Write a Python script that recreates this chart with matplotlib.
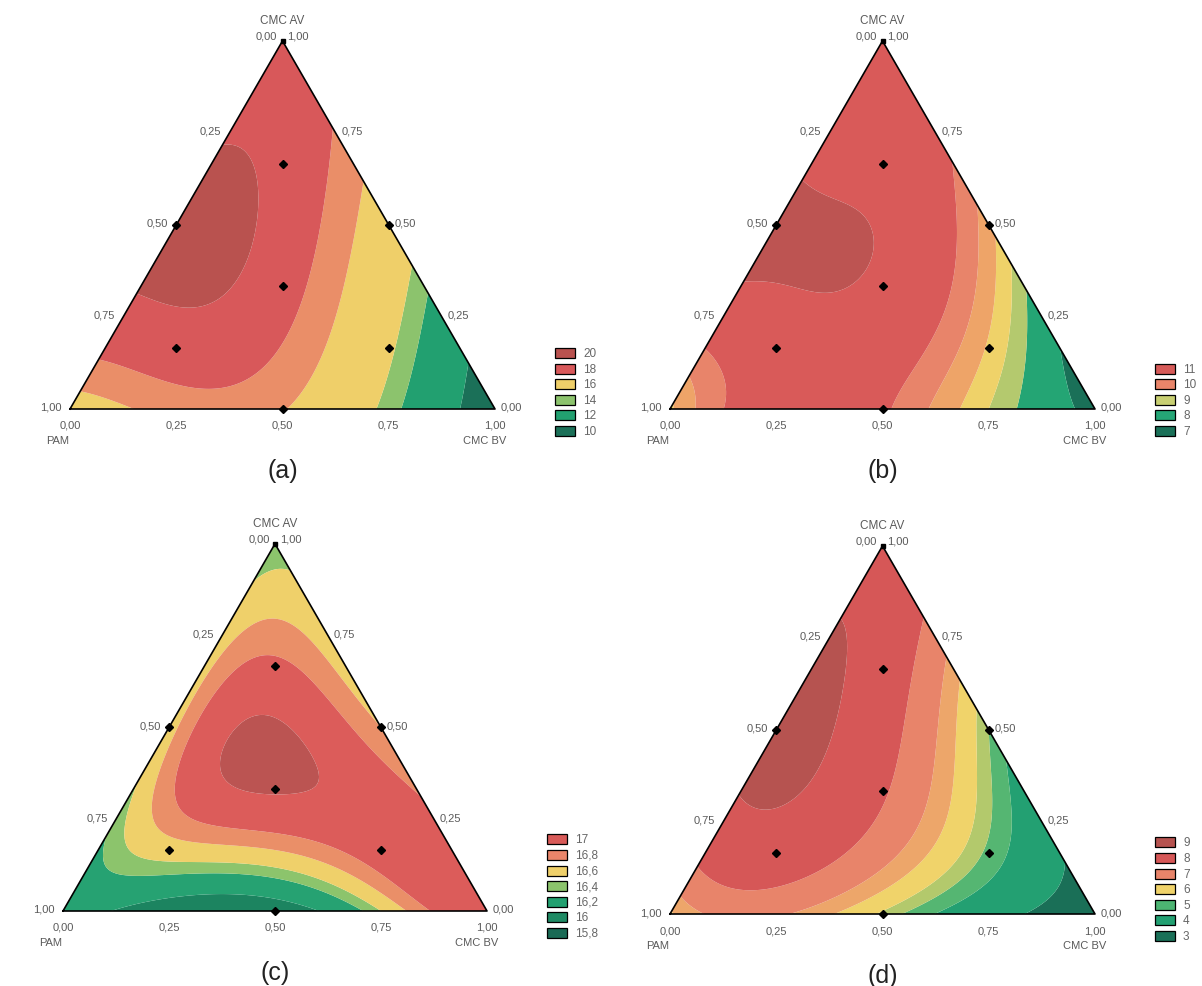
import numpy as np
import matplotlib.pyplot as plt
import matplotlib.tri as mtri
from matplotlib.patches import Rectangle

plt.rcParams['font.family'] = ['Liberation Sans', 'DejaVu Sans']

# ternary components: PAM (bottom left), CMC BV (bottom right), CMC AV (top)
lattice = [(1, 0, 0), (0, 1, 0), (0, 0, 1),
           (0.75, 0.25, 0), (0.5, 0.5, 0), (0.25, 0.75, 0),
           (0.75, 0, 0.25), (0.5, 0, 0.5), (0.25, 0, 0.75),
           (0, 0.75, 0.25), (0, 0.5, 0.5), (0, 0.25, 0.75),
           (0.5, 0.25, 0.25), (0.25, 0.5, 0.25), (0.25, 0.25, 0.5)]

resp_a = [16.0, 10.5, 19.0, 17.6, 17.1, 13.5, 19.6, 20.4, 19.9, 12.2, 15.5, 18.3, 19.7, 17.0, 19.5]
resp_b = [9.4, 7.2, 10.8, 11.0, 10.6, 9.0, 11.0, 11.6, 11.0, 8.0, 9.7, 10.7, 11.3, 10.6, 11.35]
resp_c = [16.1, 16.85, 16.35, 15.7, 15.7, 16.45, 16.35, 16.55, 16.55, 16.85, 16.65, 16.55, 16.85, 16.93, 17.02]
resp_d = [6.2, 2.5, 8.2, 6.9, 5.6, 4.0, 8.4, 9.0, 8.8, 4.0, 5.3, 7.2, 8.2, 6.5, 8.0]

# experimental points (PAM, BV, AV)
design = [(0.5, 0, 0.5), (0, 0.5, 0.5), (0.5, 0.5, 0),
          (1/3, 1/3, 1/3), (2/3, 1/6, 1/6), (1/6, 2/3, 1/6), (1/6, 1/6, 2/3)]

bounds_a = [11, 13, 14, 17, 18.4, 20]
bounds_b = [7.5, 8.5, 9, 9.5, 10, 10.5, 11.4]
bounds_c = [15.95, 16.3, 16.45, 16.65, 16.8, 17.0]
bounds_d = [3.5, 4.8, 5.3, 5.7, 6.3, 6.8, 7.6, 8.7]

fill_a = ['#1b7058', '#22a070', '#8cc36d', '#efcf69', '#ea8e68', '#d8585a', '#b9524f']
fill_b = ['#1a7058', '#24a574', '#b4c96e', '#efd269', '#eea468', '#e8846a', '#d95a59', '#bd5452']
fill_c = ['#1c8460', '#26a272', '#8cc46c', '#efd06a', '#ea8f68', '#dc5c5a', '#bb5452']
fill_d = ['#1a6f57', '#23a072', '#55b672', '#b3c96c', '#f0d36a', '#eda66a', '#e8846a', '#d65757', '#b65350']

leg_a = [20, 18, 16, 14, 12, 10]
leg_b = [11, 10, 9, 8, 7]
leg_c = [17, 16.8, 16.6, 16.4, 16.2, 16, 15.8]
leg_d = [9, 8, 7, 6, 5, 4, 3]
legcol_a = ['#b9524f', '#d8585a', '#efcf69', '#8cc36d', '#22a070', '#1b7058']
legcol_b = ['#d65a58', '#e9856a', '#c8cf72', '#25a676', '#1a7058']
legcol_c = ['#d85a58', '#e9856a', '#efd06a', '#8cc46c', '#22a070', '#1f8a64', '#1a6a55']
legcol_d = ['#b65350', '#d65757', '#e8846a', '#f0d36a', '#4cb472', '#22a072', '#1a7058']

ticks = [0, 0.25, 0.5, 0.75, 1.0]

H = np.sqrt(3) / 2
W, HPX = 1202, 987


def terms(p, b, a):
    # full quartic Scheffe polynomial
    p, b, a = np.asarray(p, float), np.asarray(b, float), np.asarray(a, float)
    return np.stack([p, b, a, p*b, p*a, b*a,
                     p*b*(p-b), p*a*(p-a), b*a*(b-a),
                     p*b*(p-b)**2, p*a*(p-a)**2, b*a*(b-a)**2,
                     p*p*b*a, p*b*b*a, p*b*a*a], axis=-1)


def to_xy(p, b, a):
    return np.asarray(b) + 0.5*np.asarray(a), H*np.asarray(a)


def fmt(v):
    return ('%.2f' % v).replace('.', ',')


def legfmt(v):
    return ('%g' % v).replace('.', ',')


# mixture grid
n = 150
gp, gb = [], []
for i in range(n+1):
    for j in range(n+1-i):
        gp.append(i/n)
        gb.append(j/n)
gp = np.array(gp)
gb = np.array(gb)
ga = np.clip(1 - gp - gb, 0, 1)
gx, gy = to_xy(gp, gb, ga)
tri = mtri.Triangulation(gx, gy)

L = np.array(lattice)
A = terms(L[:, 0], L[:, 1], L[:, 2])

fig = plt.figure(figsize=(W/100, HPX/100), dpi=100)
fig.patch.set_facecolor('white')

panels = [('(a)', 70, 410, 425, resp_a, bounds_a, fill_a, leg_a, legcol_a),
          ('(b)', 670, 410, 425, resp_b, bounds_b, fill_b, leg_b, legcol_b),
          ('(c)', 63, 912, 424, resp_c, bounds_c, fill_c, leg_c, legcol_c),
          ('(d)', 670, 915, 425, resp_d, bounds_d, fill_d, leg_d, legcol_d)]

x0, x1, y0, y1 = -0.2, 1.3, -0.2, 0.95
tc = '#5a5a5a'

for cap, px, py, s, resp, bnds, fills, legv, legc in panels:
    ax = fig.add_axes([(px + x0*s)/W, 1 - (py - y0*s)/HPX,
                       (x1 - x0)*s/W, (y1 - y0)*s/HPX])
    ax.set_xlim(x0, x1)
    ax.set_ylim(y0, y1)
    ax.axis('off')
    ax.patch.set_visible(False)
    u = 1.0 / s  # one pixel in data units

    coef = np.linalg.solve(A, np.array(resp, float))
    z = terms(gp, gb, ga) @ coef
    lev = [min(z.min(), bnds[0]) - 1] + list(bnds) + [max(z.max(), bnds[-1]) + 1]
    ax.tricontourf(tri, z, levels=lev, colors=fills, antialiased=True)

    ax.plot([0, 1, 0.5, 0], [0, 0, H, 0], color='black', lw=1.2, zorder=5)

    dp = np.array(design)
    dx, dy = to_xy(dp[:, 0], dp[:, 1], dp[:, 2])
    ax.plot(dx, dy, 'D', color='black', ms=4, zorder=6)
    ax.plot([0.5], [H], 's', color='black', ms=3.5, zorder=6)

    fs = 8
    ax.text(0.5, H + 21*u, 'CMC AV', ha='center', va='center', fontsize=8.5, color=tc)
    ax.text(0.5 - 5*u, H + 5*u, fmt(0), ha='right', va='center', fontsize=fs, color=tc)
    ax.text(0.5 + 5*u, H + 5*u, fmt(1), ha='left', va='center', fontsize=fs, color=tc)
    for t in ticks[1:]:
        # PAM on the left edge
        lx, ly = to_xy(t, 0, 1 - t)
        ax.text(lx - 8*u, ly + 2*u, fmt(t), ha='right', va='center', fontsize=fs, color=tc)
    for t in ticks[:-1]:
        # CMC AV on the right edge
        rx, ry = to_xy(0, 1 - t, t)
        ax.text(rx + 6*u, ry + 2*u, fmt(t), ha='left', va='center', fontsize=fs, color=tc)
    for t in ticks:
        bx, by = to_xy(1 - t, t, 0)
        ax.text(bx, by - 16*u, fmt(t), ha='center', va='center', fontsize=fs, color=tc)
    ax.text(-12*u, -31*u, 'PAM', ha='center', va='center', fontsize=fs, color=tc)
    ax.text(1 - 10*u, -31*u, 'CMC BV', ha='center', va='center', fontsize=fs, color=tc)

    ax.text(0.5, -61*u, cap, ha='center', va='center', fontsize=18, color='#222222')

    # legend, anchored below the base line
    nl = len(legv)
    for k, (v, c) in enumerate(zip(legv, legc)):
        yb = -27*u + (nl - 1 - k)*15.6*u
        ax.add_patch(Rectangle((1 + 60*u, yb), 20*u, 10*u, facecolor=c,
                               edgecolor='black', lw=0.9, clip_on=False))
        ax.text(1 + 88*u, yb + 5*u, legfmt(v), ha='left', va='center',
                fontsize=8.5, color='#666666')

fig.savefig('out.png', dpi=100, facecolor='white')
